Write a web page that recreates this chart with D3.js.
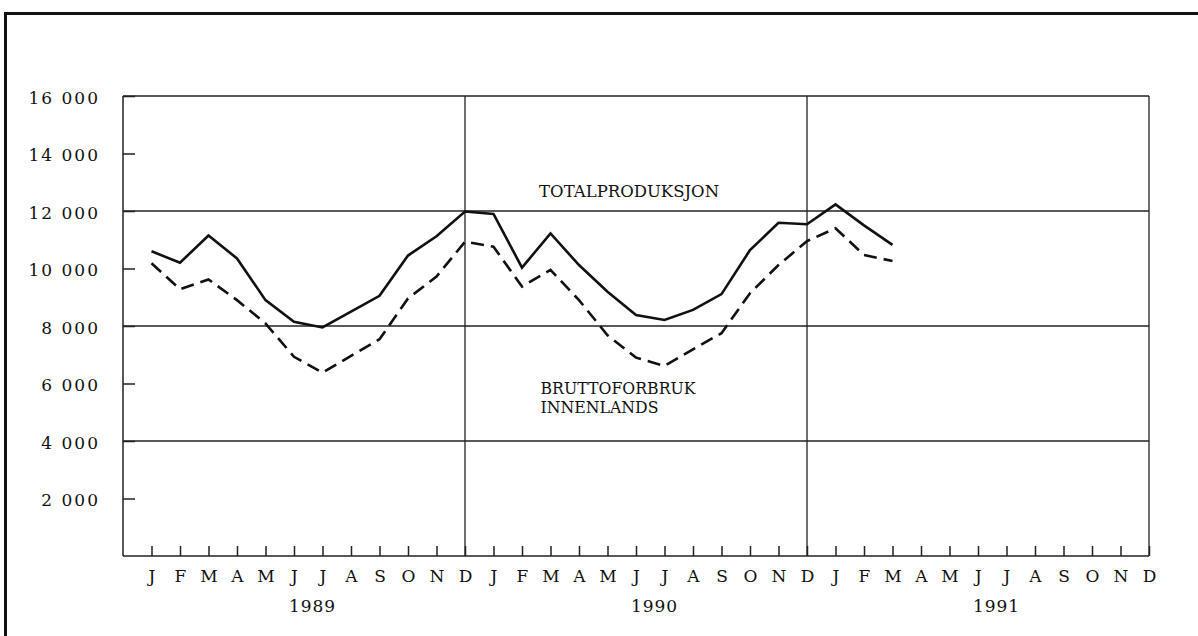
<!DOCTYPE html>
<html>
<head>
<meta charset="utf-8">
<script src="https://cdn.jsdelivr.net/npm/d3@7"></script>
<style>
    body { margin: 0; background: #fff; }
    svg text { font-family: "DejaVu Serif", "Liberation Serif", serif; font-size: 17px; fill: #111; }
</style>
</head>
<body>
<div id="chart"></div>
<script>
//Datos (mensual, enero 1989 - marzo 1991)
const MESES = ['J','F','M','A','M','J','J','A','S','O','N','D'];
const ANOS = ['1989', '1990', '1991'];
const TICKS_Y = [2000, 4000, 6000, 8000, 10000, 12000, 14000, 16000];
const LINEAS_Y = [4000, 8000, 12000, 16000];
const TOTALPRODUKSJON = [
    10600, 10200, 11150, 10350, 8900, 8150, 7950, 8500, 9050, 10450, 11120, 11980,
    11900, 10030, 11220, 10120, 9190, 8380, 8210, 8560, 9110, 10640, 11590, 11540,
    12230, 11500, 10820
];
const BRUTTOFORBRUK = [
    10180, 9280, 9620, 8900, 8090, 6930, 6380, 6960, 7540, 8960, 9720, 10930,
    10760, 9370, 9950, 8900, 7680, 6900, 6610, 7190, 7750, 9140, 10120, 10950,
    11400, 10470, 10260
];

let margin = {top: 96, right: 49, bottom: 80, left: 123},
    width = 1198 - margin.left - margin.right,
    height = 636 - margin.top - margin.bottom;

let root = d3.select('#chart')
    .append('svg')
        .attr('width', 1198)
        .attr('height', 636);

//Marco exterior
root.append('path')
    .attr('d', 'M5.5,640 V13.5 H1210')
    .attr('fill', 'none')
    .attr('stroke', '#111')
    .attr('stroke-width', 3);

let svg = root.append('g')
    .attr('transform', 'translate(' + margin.left + ',' + margin.top + ')');

let x = d3.scaleLinear()
    .domain([0, 36])
    .range([0, width]);

let y = d3.scaleLinear()
    .domain([0, 16000])
    .range([height, 0]);

let locale = d3.formatLocale({decimal: ',', thousands: ' ', grouping: [3], currency: ['', '']});
let fmt = locale.format(',');

//Rejilla horizontal
svg.selectAll('.grid-y')
    .data(LINEAS_Y)
    .enter()
    .append('line')
    .attr('x1', 0)
    .attr('x2', width)
    .attr('y1', function(d) { return y(d); })
    .attr('y2', function(d) { return y(d); })
    .attr('stroke', '#222')
    .attr('stroke-width', 1.3);

//Separadores de año
svg.selectAll('.grid-x')
    .data([12, 24, 36])
    .enter()
    .append('line')
    .attr('x1', function(d) { return x(d); })
    .attr('x2', function(d) { return x(d); })
    .attr('y1', 0)
    .attr('y2', height)
    .attr('stroke', '#222')
    .attr('stroke-width', 1.3);

let yAxis = function(g) {
    g.call(d3.axisLeft(y).tickValues(TICKS_Y).tickSize(-12).tickPadding(23).tickFormat(fmt));
    g.call(function(g) { g.select('.domain').attr('d', 'M0,0V' + height).attr('stroke', '#222').attr('stroke-width', 1.5); });
    g.call(function(g) { g.selectAll('.tick line').attr('stroke', '#222').attr('stroke-width', 1.5); });
    g.call(function(g) { g.selectAll('.tick text').attr('dy', '0.42em').attr('letter-spacing', 2); });
}

svg.append('g')
    .attr('class', 'yaxis')
    .attr('font-size', null)
    .attr('font-family', null)
    .call(yAxis);

let xAxis = function(g) {
    g.call(d3.axisBottom(x).tickValues(d3.range(1, 37)).tickSize(-10).tickPadding(14)
        .tickFormat(function(d) { return MESES[(d - 1) % 12]; }));
    g.call(function(g) { g.select('.domain').attr('d', 'M0,0H' + width).attr('stroke', '#222').attr('stroke-width', 1.5); });
    g.call(function(g) { g.selectAll('.tick line').attr('stroke', '#222').attr('stroke-width', 1.5); });
}

svg.append('g')
    .attr('class', 'xaxis')
    .attr('font-size', null)
    .attr('font-family', null)
    .attr('transform', 'translate(0,' + height + ')')
    .call(xAxis);

//Años
svg.selectAll('.ano')
    .data(ANOS)
    .enter()
    .append('text')
    .attr('x', function(d, i) { return x(i * 12 + 6.65); })
    .attr('y', height + 56)
    .attr('text-anchor', 'middle')
    .attr('letter-spacing', 1)
    .text(function(d) { return d; });

//Líneas
let line = d3.line()
    .x(function(d, i) { return x(i + 1); })
    .y(function(d) { return y(d); });

svg.append('path')
    .datum(TOTALPRODUKSJON)
    .attr('fill', 'none')
    .attr('stroke', '#111')
    .attr('stroke-width', 2.6)
    .attr('d', line);

svg.append('path')
    .datum(BRUTTOFORBRUK)
    .attr('fill', 'none')
    .attr('stroke', '#111')
    .attr('stroke-width', 2.6)
    .attr('stroke-dasharray', '13 7')
    .attr('d', line);

//Rótulos de serie
svg.append('text')
    .attr('x', x(14.6))
    .attr('y', y(12000) - 14)
    .attr('textLength', 180)
    .attr('lengthAdjust', 'spacingAndGlyphs')
    .text('TOTALPRODUKSJON');

svg.append('text')
    .attr('x', x(14.65))
    .attr('y', y(5620))
    .attr('textLength', 155)
    .attr('lengthAdjust', 'spacingAndGlyphs')
    .text('BRUTTOFORBRUK');

svg.append('text')
    .attr('x', x(14.65))
    .attr('y', y(5620) + 19)
    .attr('textLength', 118)
    .attr('lengthAdjust', 'spacingAndGlyphs')
    .text('INNENLANDS');
</script>
</body>
</html>
